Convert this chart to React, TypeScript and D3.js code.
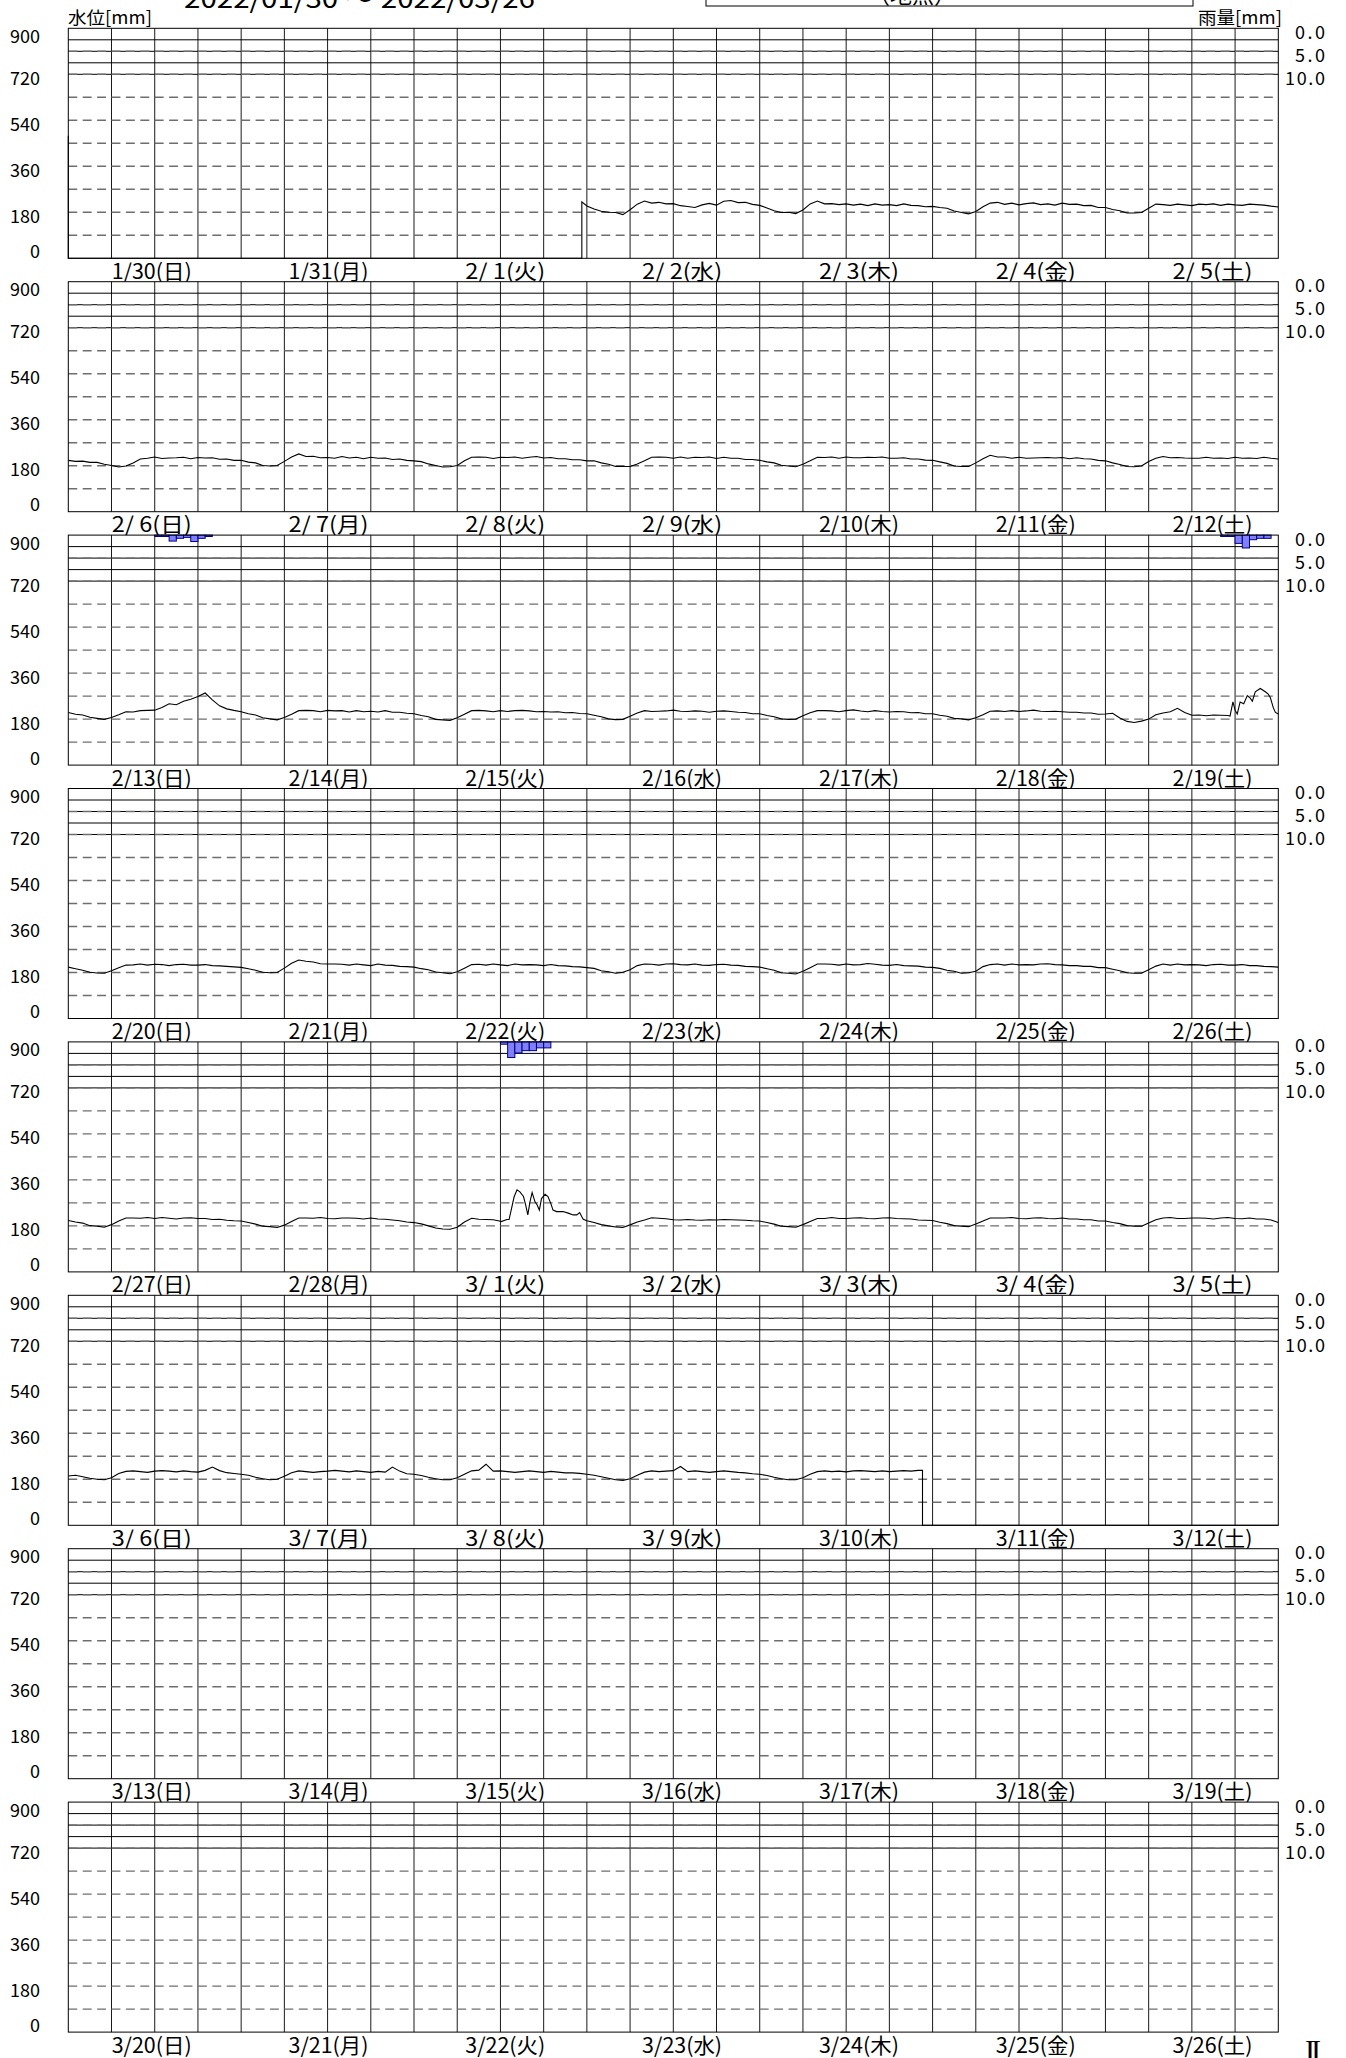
import React from 'react';
import * as d3 from 'd3';

const W = 1346;
const H = 2058;
const PLOT_LEFT = 68.3;
const PLOT_RIGHT = 1278.3;
const PANEL_TOP0 = 28.3;
const PANEL_PITCH = 253.4;
const PANEL_H = 230;
const RAIN_H = 46;
const FONT = '"Noto Sans CJK JP", "Noto Sans", sans-serif';

const weekdays = ['日', '月', '火', '水', '木', '金', '土'];
const levelTickLabels = [900, 720, 540, 360, 180, 0];
const levelGrid = [90, 180, 270, 360, 450, 540, 630, 720, 810];
const rainTickLabels = ['0.0', '5.0', '10.0'];
const rainTickValues = [0, 5, 10];
const rainGrid = [2.5, 5, 7.5, 10];

// hourly water level [mm], one array per week panel (168 values, 0h..167h)
const levelW1 = [
  0, 0, 0, 0, 0, 0, 0, 0, 0, 0, 0, 0, 0, 0, 0, 0, 0, 0, 0, 0, 0, 0, 0, 0,
  0, 0, 0, 0, 0, 0, 0, 0, 0, 0, 0, 0, 0, 0, 0, 0, 0, 0, 0, 0, 0, 0, 0, 0,
  0, 0, 0, 0, 0, 0, 0, 0, 0, 0, 0, 0, 0, 0, 0, 0, 0, 0, 0, 0, 0, 0, 0, 0,
  205, 193, 184, 180, 179, 171, 190, 212, 224, 216, 219, 213, 214, 206, 203, 199, 209, 215, 208, 223, 226, 218, 219, 211,
  207, 197, 186, 179, 180, 175, 189, 213, 224, 213, 214, 210, 213, 208, 212, 206, 213, 208, 210, 206, 213, 207, 206, 202,
  203, 199, 196, 185, 179, 174, 183, 202, 216, 219, 211, 216, 209, 214, 217, 210, 213, 208, 216, 211, 212, 206, 207, 199,
  199, 191, 186, 177, 177, 179, 196, 212, 210, 207, 212, 209, 206, 212, 210, 213, 207, 212, 209, 207, 212, 210, 208, 204,
];
const levelW2 = [
  201, 197, 198, 193, 193, 186, 181, 175, 179, 191, 206, 209, 214, 208, 210, 211, 213, 207, 212, 210, 211, 205, 206, 201,
  201, 194, 191, 181, 179, 181, 197, 214, 226, 216, 217, 211, 212, 209, 216, 210, 213, 207, 213, 209, 210, 204, 206, 201,
  199, 196, 187, 181, 175, 176, 181, 199, 213, 214, 213, 208, 213, 212, 214, 209, 213, 216, 210, 212, 207, 207, 203, 203,
  199, 199, 191, 186, 177, 177, 177, 187, 199, 213, 214, 213, 209, 214, 209, 213, 212, 214, 208, 213, 209, 209, 204, 204,
  201, 195, 191, 182, 179, 176, 186, 199, 213, 212, 214, 209, 214, 211, 211, 213, 212, 214, 209, 209, 211, 206, 206, 202,
  201, 195, 189, 179, 177, 177, 191, 207, 221, 214, 214, 209, 213, 209, 210, 211, 212, 210, 212, 207, 211, 207, 206, 201,
  199, 191, 185, 177, 176, 179, 196, 209, 216, 211, 212, 210, 209, 209, 213, 209, 210, 208, 213, 209, 210, 208, 213, 209,
];
const levelW3 = [
  206, 199, 196, 187, 183, 179, 186, 197, 209, 208, 213, 214, 215, 225, 240, 236, 250, 258, 268, 282, 255, 232, 220, 214,
  209, 201, 196, 185, 181, 177, 186, 199, 213, 214, 213, 209, 214, 212, 213, 208, 213, 209, 211, 208, 213, 207, 207, 203,
  201, 194, 189, 179, 177, 175, 185, 199, 213, 214, 212, 209, 213, 210, 213, 214, 212, 209, 210, 208, 209, 205, 206, 202,
  201, 195, 189, 181, 178, 179, 191, 204, 213, 210, 211, 212, 215, 211, 210, 212, 211, 207, 211, 212, 210, 207, 206, 201,
  201, 194, 189, 181, 179, 180, 193, 205, 213, 213, 212, 209, 213, 216, 212, 209, 213, 210, 208, 210, 209, 205, 206, 201,
  201, 195, 191, 183, 181, 177, 185, 197, 211, 212, 210, 213, 210, 212, 215, 211, 210, 211, 209, 207, 207, 204, 204, 199,
  200, 203, 184, 171, 167, 172, 180, 197, 204, 209, 222, 206, 195, 196, 193, 196, 195, 194, 200, 260, 280, 295, 280, 225,
];
const levelW4 = [
  201, 195, 189, 181, 178, 177, 187, 199, 209, 210, 213, 209, 212, 211, 207, 211, 212, 209, 209, 211, 207, 206, 204, 202,
  200, 195, 189, 181, 179, 180, 197, 216, 229, 224, 221, 214, 213, 213, 212, 209, 213, 210, 207, 213, 209, 208, 204, 203,
  201, 195, 191, 182, 179, 175, 183, 197, 211, 212, 209, 213, 210, 207, 213, 210, 211, 210, 207, 211, 207, 206, 203, 202,
  199, 196, 187, 183, 177, 181, 191, 207, 213, 212, 209, 213, 214, 211, 210, 213, 209, 208, 211, 212, 209, 208, 204, 203,
  201, 195, 189, 179, 177, 174, 185, 199, 213, 213, 212, 209, 213, 210, 211, 215, 212, 209, 208, 211, 207, 206, 205, 201,
  200, 196, 189, 185, 177, 179, 185, 203, 211, 213, 209, 213, 210, 211, 210, 213, 214, 211, 210, 207, 207, 204, 204, 199,
  199, 193, 187, 179, 177, 177, 191, 205, 213, 209, 213, 210, 211, 210, 207, 211, 212, 209, 209, 211, 207, 207, 204, 203,
];
const levelW5 = [
  201, 195, 191, 181, 179, 175, 185, 199, 211, 211, 210, 213, 209, 213, 210, 207, 211, 212, 209, 209, 205, 206, 202, 200,
  199, 193, 187, 179, 177, 174, 183, 197, 211, 211, 210, 213, 209, 208, 211, 211, 210, 207, 211, 207, 206, 203, 200, 195,
  193, 188, 180, 172, 168, 167, 175, 195, 210, 206, 205, 204, 198, 205, 300, 295, 274, 250, 300, 260, 236, 229, 223, 210,
  200, 193, 185, 180, 176, 174, 184, 195, 203, 212, 210, 208, 204, 203, 205, 203, 202, 204, 203, 205, 204, 203, 202, 200,
  199, 193, 187, 179, 177, 175, 185, 197, 209, 209, 213, 209, 209, 211, 212, 209, 208, 211, 212, 209, 208, 207, 203, 202,
  201, 194, 189, 181, 179, 177, 187, 199, 211, 211, 211, 213, 209, 208, 211, 212, 209, 208, 211, 207, 207, 204, 204, 199,
  199, 193, 189, 181, 179, 179, 191, 204, 211, 213, 209, 209, 211, 211, 210, 207, 211, 213, 209, 208, 211, 207, 207, 203,
];
const levelW6 = [
  193, 196, 190, 184, 180, 178, 186, 203, 211, 213, 210, 207, 212, 214, 212, 209, 213, 210, 208, 215, 228, 214, 206, 203,
  200, 196, 188, 182, 178, 180, 192, 206, 213, 210, 207, 210, 212, 215, 212, 209, 213, 210, 207, 211, 208, 228, 212, 202,
  200, 195, 188, 182, 178, 178, 186, 200, 213, 216, 239, 212, 213, 210, 207, 210, 213, 210, 207, 211, 208, 205, 205, 203,
  200, 196, 190, 184, 178, 176, 182, 196, 208, 213, 210, 212, 214, 230, 210, 213, 210, 207, 210, 213, 210, 207, 205, 202,
  200, 195, 188, 182, 178, 178, 186, 200, 210, 213, 210, 212, 209, 213, 214, 212, 210, 213, 210, 212, 214, 212, 215, 0,
  0, 0, 0, 0, 0, 0, 0, 0, 0, 0, 0, 0, 0, 0, 0, 0, 0, 0, 0, 0, 0, 0, 0, 0,
  0, 0, 0, 0, 0, 0, 0, 0, 0, 0, 0, 0, 0, 0, 0, 0, 0, 0, 0, 0, 0, 0, 0, 0,
];
const levelPanels = [levelW1, levelW2, levelW3, levelW4, levelW5, levelW6, null, null];

// finer readings around the flood peaks: [hour in panel, level]
const detailW3 = [
  [161.3, 192], [161.7, 247], [162.0, 215], [162.3, 200], [162.7, 247], [163.2, 240], [163.7, 272],
  [164.1, 262], [164.4, 250], [164.8, 287], [165.5, 300], [166.2, 287], [166.6, 278], [166.9, 264],
  [167.3, 225], [167.6, 206], [168, 200],
];
const detailW5 = [
  [60.1, 197], [60.9, 205], [61.2, 205], [61.9, 294], [62.3, 321], [62.7, 313], [63.2, 295], [63.5, 262],
  [63.8, 223], [64.1, 274], [64.4, 310], [64.8, 274], [65.1, 262], [65.4, 242], [65.7, 287], [66.2, 304],
  [66.6, 295], [67.0, 267], [67.3, 242], [67.8, 236], [68.7, 236], [69.5, 229], [70.1, 223], [70.6, 223],
  [71.0, 232], [71.3, 216], [71.5, 206],
];
const levelDetails = [
  { panel: 2, pts: detailW3 },
  { panel: 4, pts: detailW5 },
];
// abrupt jumps: [panel, hour, from, to]
const levelSteps = [
  [0, 0, 480, 0],
  [0, 71.3, 0, 221],
  [5, 118.6, 215, 0],
];

// hourly rain [mm]
const rainFeb13 = [0.3, 0.3, 1.3, 0.7, 0.5, 1.4, 0.7, 0.3];
const rainFeb19 = [0.3, 0.3, 1.8, 2.8, 1.0, 0.7, 0.7];
const rainMar01 = [0.5, 3.4, 2.4, 1.9, 1.9, 1.3, 1.3];
const rainEvents = [
  { panel: 2, start: 12, values: rainFeb13 },
  { panel: 2, start: 160, values: rainFeb19 },
  { panel: 4, start: 60, values: rainMar01 },
];

const startDate = new Date(2022, 0, 30);

function dateLabel(d: Date) {
  const m = d.getMonth() + 1;
  const day = d.getDate();
  return `${m}/${day < 10 ? ' ' + day : day}(${weekdays[d.getDay()]})`;
}

type Pt = { t: number; v: number; o: number };

function panelPoints(k: number): Pt[] {
  const arr = levelPanels[k];
  if (!arr) return [];
  let pts: Pt[] = arr.map((v, i) => ({ t: i, v, o: 2 }));
  const next = levelPanels[k + 1];
  pts.push({ t: 168, v: next ? next[0] : arr[arr.length - 1], o: 2 });
  levelDetails
    .filter((d) => d.panel === k)
    .forEach((d) => {
      const t0 = d.pts[0][0];
      const t1 = d.pts[d.pts.length - 1][0];
      pts = pts.filter((p) => p.t < t0 || p.t > t1);
      d.pts.forEach(([t, v]) => pts.push({ t, v, o: 1 }));
    });
  levelSteps
    .filter((s) => s[0] === k)
    .forEach((s) => {
      pts.push({ t: s[1], v: s[2], o: 0 });
      pts.push({ t: s[1], v: s[3], o: 1 });
    });
  pts.sort((a, b) => a.t - b.t || a.o - b.o);
  return pts;
}

function Panel({ k }: { k: number }) {
  const top = PANEL_TOP0 + k * PANEL_PITCH;
  const bottom = top + PANEL_H;
  const x = d3.scaleLinear().domain([0, 168]).range([PLOT_LEFT, PLOT_RIGHT]);
  const y = d3.scaleLinear().domain([0, 900]).range([bottom, top]);
  const ry = d3.scaleLinear().domain([0, 10]).range([top, top + RAIN_H]);
  const vTicks = d3.range(6, 168, 6);
  const pts = panelPoints(k);
  const line = d3
    .line<Pt>()
    .x((p) => x(p.t))
    .y((p) => y(p.v));
  const period = (x(6) - x(0)) / 3;
  const days = d3.range(7).map((i) => d3.timeDay.offset(startDate, k * 7 + i));

  return (
    <g>
      <rect x={PLOT_LEFT} y={top} width={PLOT_RIGHT - PLOT_LEFT} height={PANEL_H} fill="#fff" />
      {vTicks.map((t) => (
        <line key={'v' + t} x1={x(t)} x2={x(t)} y1={top} y2={bottom} stroke="#1a1a1a" strokeWidth={1} />
      ))}
      {rainGrid.map((r) => (
        <line key={'r' + r} x1={PLOT_LEFT} x2={PLOT_RIGHT} y1={ry(r)} y2={ry(r)} stroke="#000" strokeWidth={1} />
      ))}
      {levelGrid.map((g) => (
        <line
          key={'g' + g}
          x1={PLOT_LEFT}
          x2={PLOT_RIGHT}
          y1={y(g)}
          y2={y(g)}
          stroke="#6e6e6e"
          strokeWidth={1.4}
          strokeDasharray={`${period * 0.62} ${period * 0.38}`}
        />
      ))}
      {rainEvents
        .filter((e) => e.panel === k)
        .map((e, ei) =>
          e.values.map((v, i) => (
            <rect
              key={'rain' + ei + '-' + i}
              x={x(e.start + i)}
              y={ry(0)}
              width={x(1) - x(0)}
              height={ry(v) - ry(0)}
              fill="#8080ff"
              stroke="#000080"
              strokeWidth={1}
            />
          ))
        )}
      {pts.length > 0 && <path d={line(pts) || ''} fill="none" stroke="#000" strokeWidth={1.1} />}
      <rect
        x={PLOT_LEFT}
        y={top}
        width={PLOT_RIGHT - PLOT_LEFT}
        height={PANEL_H}
        fill="none"
        stroke="#000"
        strokeWidth={1}
      />
      {levelTickLabels.map((v) => {
        const cy = Math.min(Math.max(y(v) + 4, top + 8), bottom - 7);
        return (
          <text key={'l' + v} x={40} y={cy} dy="0.36em" textAnchor="end" fontSize={18} fontFamily={FONT}>
            {v}
          </text>
        );
      })}
      {rainTickLabels.map((s, i) => (
        <text
          key={'rl' + i}
          x={1325}
          y={ry(rainTickValues[i]) + 4}
          dy="0.36em"
          textAnchor="end"
          fontSize={18}
          fontFamily={FONT}
          textLength={s.length === 3 ? 30 : 40}
          lengthAdjust="spacing"
        >
          {s}
        </text>
      ))}
      {days.map((d, i) => (
        <text
          key={'d' + i}
          x={111.7 + i * 176.8}
          y={bottom + 20.5}
          fontSize={21}
          fontFamily={FONT}
          textLength={80}
          lengthAdjust="spacingAndGlyphs"
        >
          {dateLabel(d)}
        </text>
      ))}
    </g>
  );
}

export default function App() {
  return (
    <svg
      width={W}
      height={H}
      viewBox={`0 0 ${W} ${H}`}
      style={{ position: 'absolute', left: 0, top: 0, background: '#fff' }}
    >
      <rect x={0} y={0} width={W} height={H} fill="#fff" />
      <text x={184} y={8} fontSize={26} fontFamily={FONT} textLength={351} lengthAdjust="spacingAndGlyphs">
        2022/01/30 ～ 2022/03/26
      </text>
      <rect x={706} y={-40} width={487} height={46} fill="none" stroke="#000" strokeWidth={1} />
      <text x={912} y={3} fontSize={22} fontFamily={FONT} textAnchor="middle">
        （地点）
      </text>
      <text x={68} y={24} fontSize={17} fontFamily={FONT} textLength={84} lengthAdjust="spacingAndGlyphs">
        水位[mm]
      </text>
      <text
        x={1282}
        y={24}
        fontSize={17}
        fontFamily={FONT}
        textAnchor="end"
        textLength={84}
        lengthAdjust="spacingAndGlyphs"
      >
        雨量[mm]
      </text>
      {d3.range(8).map((k) => (
        <Panel key={k} k={k} />
      ))}
      <text x={1305} y={2060} fontSize={30} fontFamily='"Liberation Serif", serif' letterSpacing={-4}>
        II
      </text>
    </svg>
  );
}
